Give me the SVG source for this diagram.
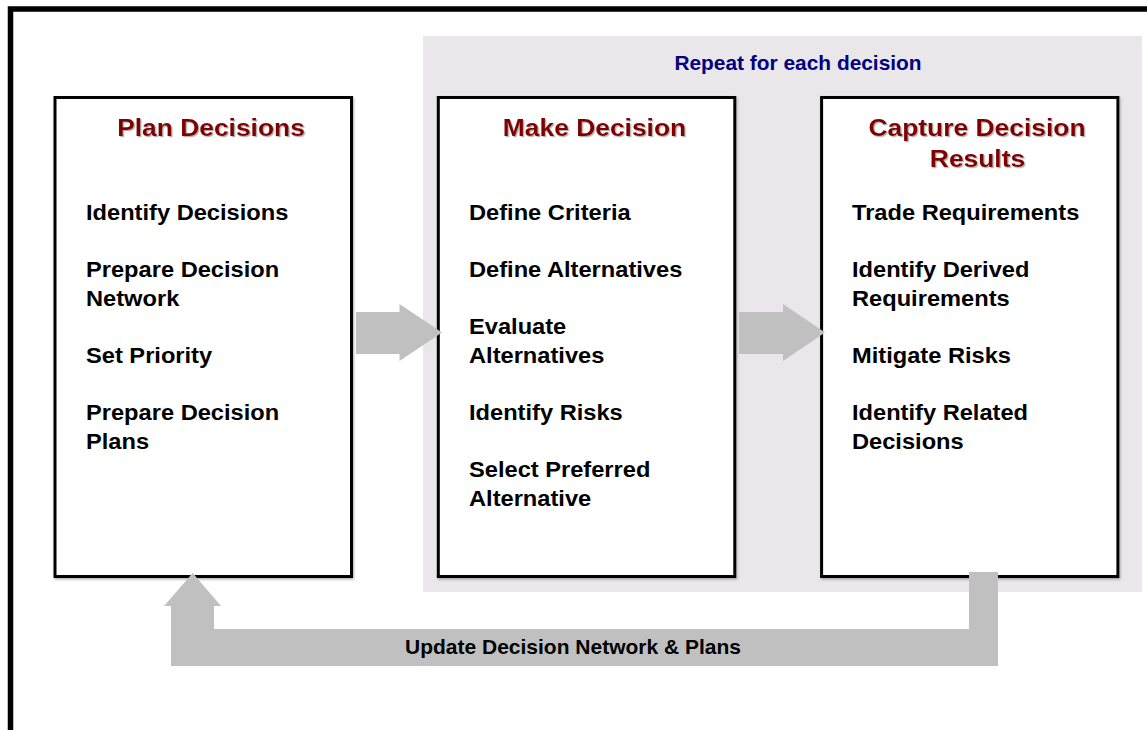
<svg xmlns="http://www.w3.org/2000/svg" width="1147" height="730" viewBox="0 0 1147 730">
  <defs>
    <style>
      .box { fill: #ffffff; stroke: #000000; stroke-width: 3; }
      .title { font-family: "Liberation Sans", Arial, sans-serif; font-weight: bold; font-size: 24px; fill: #800000; text-anchor: middle; }
      .item { font-family: "Liberation Sans", Arial, sans-serif; font-weight: bold; font-size: 21.5px; fill: #000000; }
      .note { font-family: "Liberation Sans", Arial, sans-serif; font-weight: bold; font-size: 20px; text-anchor: middle; }
      .arrow { fill: #c0c0c0; stroke: none; }
    </style>
    <filter id="tshadow" x="-5%" y="-20%" width="110%" height="140%">
      <feDropShadow dx="1.2" dy="1.2" stdDeviation="0.6" flood-color="#808080" flood-opacity="0.6"/>
    </filter>
    <filter id="bshadow" x="-2%" y="-2%" width="104%" height="104%">
      <feDropShadow dx="1" dy="1.5" stdDeviation="0.8" flood-color="#606060" flood-opacity="0.5"/>
    </filter>
  </defs>

  <rect x="0" y="0" width="1147" height="730" fill="#ffffff"/>
  <rect id="frame" x="10.5" y="9" width="1150" height="730" fill="none" stroke="#000000" stroke-width="5.5"/>

  <g id="repeat-panel">
    <rect x="423" y="36" width="719" height="556" fill="#e9e7e9"/>
    <g transform="translate(798,70) scale(1.045,1)">
      <text class="note" x="0" y="0" fill="#000080">Repeat for each decision</text>
    </g>
  </g>

  <g id="plan-decisions">
    <rect class="box" x="55" y="97.5" width="296.5" height="479" filter="url(#bshadow)"/>
    <g transform="translate(211,136) scale(1.1,1)">
      <text class="title" x="0" y="0" filter="url(#tshadow)">Plan Decisions</text>
    </g>
    <g transform="translate(86,0) scale(1.1,1)">
      <text class="item" x="0" y="220">Identify Decisions</text>
      <text class="item" x="0" y="277">Prepare Decision</text>
      <text class="item" x="0" y="306">Network</text>
      <text class="item" x="0" y="363">Set Priority</text>
      <text class="item" x="0" y="420">Prepare Decision</text>
      <text class="item" x="0" y="449">Plans</text>
    </g>
  </g>

  <g id="make-decision">
    <rect class="box" x="438.3" y="97.5" width="296.5" height="479" filter="url(#bshadow)"/>
    <g transform="translate(594.5,136) scale(1.1,1)">
      <text class="title" x="0" y="0" filter="url(#tshadow)">Make Decision</text>
    </g>
    <g transform="translate(469,0) scale(1.1,1)">
      <text class="item" x="0" y="220">Define Criteria</text>
      <text class="item" x="0" y="277">Define Alternatives</text>
      <text class="item" x="0" y="334">Evaluate</text>
      <text class="item" x="0" y="363">Alternatives</text>
      <text class="item" x="0" y="420">Identify Risks</text>
      <text class="item" x="0" y="477">Select Preferred</text>
      <text class="item" x="0" y="506">Alternative</text>
    </g>
  </g>

  <g id="capture-results">
    <rect class="box" x="821.6" y="97.5" width="296.3" height="479" filter="url(#bshadow)"/>
    <g transform="translate(977,136) scale(1.1,1)">
      <text class="title" x="0" y="0" filter="url(#tshadow)">Capture Decision</text>
    </g>
    <g transform="translate(977.5,167) scale(1.1,1)">
      <text class="title" x="0" y="0" filter="url(#tshadow)">Results</text>
    </g>
    <g transform="translate(852,0) scale(1.1,1)">
      <text class="item" x="0" y="220">Trade Requirements</text>
      <text class="item" x="0" y="277">Identify Derived</text>
      <text class="item" x="0" y="306">Requirements</text>
      <text class="item" x="0" y="363">Mitigate Risks</text>
      <text class="item" x="0" y="420">Identify Related</text>
      <text class="item" x="0" y="449">Decisions</text>
    </g>
  </g>

  <g id="connectors">
    <polygon class="arrow" points="356,312 399.5,312 399.5,304 442,332.5 399.5,361 399.5,354 356,354"/>
    <polygon class="arrow" points="739,312 783,312 783,304 825,332.5 783,361 783,354 739,354"/>
    <polygon class="arrow" points="969,572 998,572 998,666 171,666 171,606 164,606 192.7,573 221,606 214,606 214,629 969,629"/>
    <g transform="translate(573,654) scale(1.05,1)">
      <text class="note" x="0" y="0" fill="#000000">Update Decision Network &amp; Plans</text>
    </g>
  </g>
</svg>
